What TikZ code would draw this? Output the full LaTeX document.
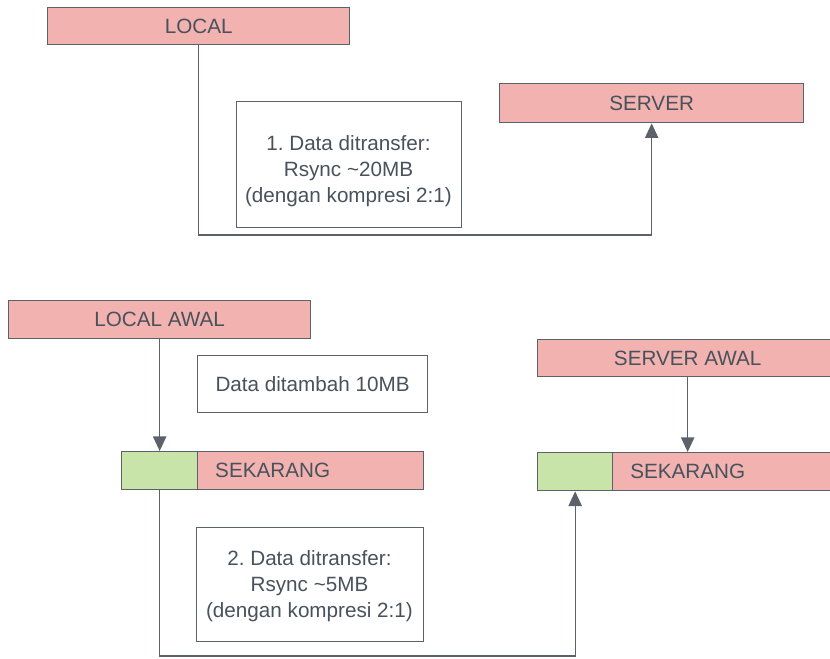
\documentclass[tikz,border=0pt]{standalone}
\usepackage{fontspec}
\setmainfont{Liberation Sans}
\usetikzlibrary{arrows.meta}

\definecolor{boxpink}{RGB}{242,178,176}
\definecolor{boxgreen}{RGB}{200,228,168}
\definecolor{edgegray}{RGB}{92,98,106}
\definecolor{inkgray}{RGB}{72,82,92}

\def\px{0.75pt}

\tikzset{
  block/.style={draw=edgegray, line width=1pt, fill=boxpink, text=inkgray,
    anchor=north west, inner sep=0pt, font=\fontsize{15.5pt}{19.5pt}\selectfont},
  greenpart/.style={block, fill=boxgreen},
  notebox/.style={draw=edgegray, line width=0.9pt, fill=white, anchor=north west,
    inner sep=0pt},
  notetext/.style={text=inkgray, align=center, inner sep=0pt,
    font=\fontsize{15.5pt}{19.5pt}\selectfont\frenchspacing},
  wire/.style={draw=edgegray, line width=1pt},
  arr/.style={wire, -{Triangle[width=10pt,length=11pt]}}
}

\begin{document}
\begin{tikzpicture}[x=\px, y=-\px]
  \useasboundingbox (0,0) rectangle (830,659);
  \clip (0,0) rectangle (830,659);

  % ---- first transfer ----
  \node[block, minimum width=302*\px, minimum height=37*\px] (local) at (47,7) {LOCAL};
  \node[block, minimum width=304*\px, minimum height=39*\px] (server) at (499,83) {SERVER};

  \node[notebox, minimum width=225*\px, minimum height=126*\px] (note1) at (236,101) {};
  \node[notetext] (note1txt) at (348.5,171)
    {1. Data ditransfer:\\Rsync \textasciitilde20MB\\(dengan kompresi 2:1)};

  \coordinate (turn1) at (420,235);
  \draw[arr] (local.south) |- (turn1) -| (server.south);

  % ---- second transfer ----
  \node[block, minimum width=302*\px, minimum height=38*\px] (localawal) at (8,300) {LOCAL AWAL};
  \node[block, minimum width=300*\px, minimum height=37*\px] (serverawal) at (537,339) {SERVER AWAL};

  \node[notebox, minimum width=230*\px, minimum height=57*\px] (note2) at (197,355) {};
  \node[notetext] (note2txt) at (note2.center) {Data ditambah 10MB};

  \node[block, minimum width=302*\px, minimum height=38*\px] (sek1) at (121,451) {SEKARANG};
  \node[greenpart, minimum width=76*\px, minimum height=38*\px] (grn1) at (121,451) {};

  \node[block, minimum width=300*\px, minimum height=38*\px] (sek2) at (537,452) {SEKARANG};
  \node[greenpart, minimum width=75*\px, minimum height=38*\px] (grn2) at (537,452) {};

  \draw[arr] (localawal.south) -- (grn1.north);
  \draw[arr] (serverawal.south) -- (sek2.north);

  \node[notebox, minimum width=227*\px, minimum height=114*\px] (note3) at (196,527) {};
  \node[notetext] (note3txt) at (309.5,586)
    {2. Data ditransfer:\\Rsync \textasciitilde5MB\\(dengan kompresi 2:1)};

  \coordinate (turn2) at (400,656);
  \draw[arr] (grn1.south) |- (turn2) -| (grn2.south);
\end{tikzpicture}
\end{document}
